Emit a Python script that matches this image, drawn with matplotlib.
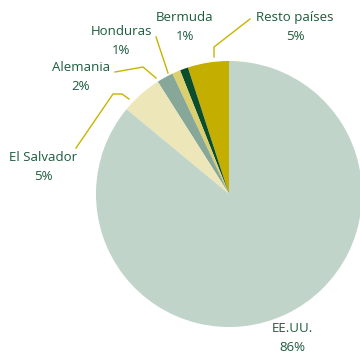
import matplotlib
matplotlib.use("Agg")
import matplotlib.pyplot as plt
from matplotlib.lines import Line2D

# Share by destination (%), counterclockwise from 12 o'clock
categories = ["Resto países", "Bermuda", "Honduras", "Alemania", "El Salvador", "EE.UU."]
values = [5, 1, 1, 2, 5, 86]
colors = ["#c4ae00", "#0b4d2c", "#dccf6e", "#87a898", "#ede6b9", "#c0d4c9"]

TEXT_C = "#1b5c3b"
LINE_C = "#c8b400"
W, H = 360, 358

plt.rcParams["font.family"] = ["Open Sans", "DejaVu Sans"]
fig = plt.figure(figsize=(W / 100, H / 100), dpi=100)
fig.patch.set_facecolor("white")

cx, cy, r = 229, 194, 133
ax = fig.add_axes([(cx - r) / W, (H - cy - r) / H, 2 * r / W, 2 * r / H])
wedges, _ = ax.pie(values, colors=colors, startangle=90, counterclock=True,
                   radius=1.0, wedgeprops=dict(linewidth=0))
for w in wedges:
    w.set_clip_on(False)
ax.set_xlim(-1, 1)
ax.set_ylim(-1, 1)
ax.set_aspect("auto")
ax.axis("off")


def fx(px):
    return px / W


def fy(py):
    return 1 - py / H


# label text anchors (pixel positions) and leader lines
label_pos = {
    "Resto países": (295, 27),
    "Bermuda": (185, 27),
    "Honduras": (121, 41),
    "Alemania": (81, 77),
    "El Salvador": (43, 167),
    "EE.UU.": (292, 338),
}
leaders = {
    "Resto países": [(214, 57), (214, 47), (250, 19)],
    "Honduras": [(168, 73), (156, 37)],
    "Alemania": [(115, 72), (143, 67), (156, 78)],
    "El Salvador": [(76, 148), (113, 94), (122, 94), (129, 99)],
}

for cat, val in zip(categories, values):
    x, y = label_pos[cat]
    fig.text(fx(x), fy(y), f"{cat}\n{val}%", ha="center", va="center",
             color=TEXT_C, fontsize=9.5, linespacing=1.65)

for cat, pts in leaders.items():
    xs = [fx(p[0]) for p in pts]
    ys = [fy(p[1]) for p in pts]
    fig.add_artist(Line2D(xs, ys, color=LINE_C, linewidth=1.0,
                          transform=fig.transFigure))

fig.savefig("out.png", dpi=100)
